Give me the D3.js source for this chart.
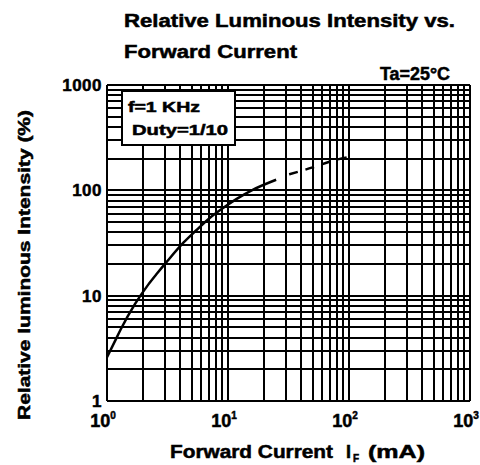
<!DOCTYPE html>
<html lang="en">
<head>
    <meta charset="UTF-8">
    <title>Relative Luminous Intensity vs. Forward Current</title>
    <script src="https://d3js.org/d3.v7.min.js"></script>
    <style>
        body {
            margin: 0;
            background: #fff;
        }
        svg text {
            font-family: "Liberation Sans", Arial, sans-serif;
            font-weight: bold;
            fill: #000;
            stroke: #000;
            stroke-width: 0.5;
        }
        .grid line {
            stroke: #000;
            stroke-width: 2;
            shape-rendering: crispEdges;
        }
        .curve {
            fill: none;
            stroke: #000;
            stroke-width: 2.5;
        }
    </style>
</head>
<body>
    <svg width="480" height="465"></svg>
    <script>
        // solid part of the curve (mA, %)
        const currentSolid = [1, 1.15, 1.3, 1.7, 2.2, 2.6, 3.1, 4.3, 5.5, 7.1, 9.1, 11.8, 16, 25];
        const intensitySolid = [2.6, 3.6, 4.8, 8.3, 12.8, 16.3, 20.8, 32, 42, 55, 68, 83, 101, 126];
        // dashed extension
        const currentDashed = [32, 50, 70, 100];
        const intensityDashed = [142, 165, 188, 208];

        const xTickPowers = [0, 1, 2, 3];
        const yTickLabels = ["1", "10", "100", "1000"];

        const svg = d3.select("svg");

        const x = d3.scaleLog().domain([1, 1000]).range([107, 470]);
        const y = d3.scaleLog().domain([1, 1000]).range([401, 85]);

        // grid
        const grid = svg.append("g").attr("class", "grid");
        grid.selectAll(".vx")
            .data(x.ticks())
            .enter()
            .append("line")
            .attr("x1", d => Math.round(x(d)))
            .attr("x2", d => Math.round(x(d)))
            .attr("y1", y(1000))
            .attr("y2", y(1));
        grid.selectAll(".hy")
            .data(y.ticks())
            .enter()
            .append("line")
            .attr("y1", d => Math.round(y(d)))
            .attr("y2", d => Math.round(y(d)))
            .attr("x1", x(1))
            .attr("x2", x(1000));

        // curve
        const line = d3.line()
            .x(d => x(d[0]))
            .y(d => y(d[1]))
            .curve(d3.curveMonotoneX);

        svg.append("path")
            .attr("class", "curve")
            .attr("d", line(d3.zip(currentSolid, intensitySolid)));

        svg.append("path")
            .attr("class", "curve")
            .attr("stroke-dasharray", "9,8")
            .attr("d", line(d3.zip(currentDashed, intensityDashed)));

        // legend box
        svg.append("rect")
            .attr("x", 122)
            .attr("y", 91)
            .attr("width", 113)
            .attr("height", 54)
            .attr("fill", "#fff")
            .attr("stroke", "#000")
            .attr("stroke-width", 2);
        svg.append("text")
            .attr("x", 128).attr("y", 112)
            .attr("font-size", 14)
            .attr("textLength", 72).attr("lengthAdjust", "spacingAndGlyphs")
            .text("f=1 KHz");
        svg.append("text")
            .attr("x", 132).attr("y", 135)
            .attr("font-size", 14)
            .attr("textLength", 96).attr("lengthAdjust", "spacingAndGlyphs")
            .text("Duty=1/10");

        // y tick labels
        svg.selectAll(".ylab")
            .data(yTickLabels)
            .enter()
            .append("text")
            .attr("x", 102)
            .attr("y", d => y(+d) + 6)
            .attr("text-anchor", "end")
            .attr("font-size", 17)
            .attr("letter-spacing", 0.5)
            .text(d => d);

        // x tick labels, 10^n
        const xl = svg.selectAll(".xlab")
            .data(xTickPowers)
            .enter()
            .append("text")
            .attr("x", d => x(Math.pow(10, d)) - 4)
            .attr("y", 427)
            .attr("text-anchor", "middle")
            .attr("font-size", 18);
        xl.append("tspan").text("10");
        xl.append("tspan")
            .attr("font-size", 10)
            .attr("dy", -8)
            .text(d => d);

        // titles
        svg.append("text")
            .attr("x", 124).attr("y", 27)
            .attr("font-size", 18)
            .attr("textLength", 331).attr("lengthAdjust", "spacingAndGlyphs")
            .text("Relative Luminous Intensity vs.");
        svg.append("text")
            .attr("x", 124).attr("y", 58)
            .attr("font-size", 18)
            .attr("textLength", 173).attr("lengthAdjust", "spacingAndGlyphs")
            .text("Forward Current");
        svg.append("text")
            .attr("x", 380).attr("y", 80)
            .attr("font-size", 18)
            .attr("textLength", 70).attr("lengthAdjust", "spacingAndGlyphs")
            .text("Ta=25°C");

        // x axis title
        svg.append("text")
            .attr("x", 170).attr("y", 458)
            .attr("font-size", 18)
            .attr("textLength", 163).attr("lengthAdjust", "spacingAndGlyphs")
            .text("Forward Current");
        svg.append("text")
            .attr("x", 346).attr("y", 458)
            .attr("font-size", 18)
            .text("I");
        svg.append("text")
            .attr("x", 353).attr("y", 462)
            .attr("font-size", 10)
            .text("F");
        svg.append("text")
            .attr("x", 368).attr("y", 458)
            .attr("font-size", 18)
            .attr("textLength", 57).attr("lengthAdjust", "spacingAndGlyphs")
            .text("(mA)");

        // y axis title
        svg.append("text")
            .attr("transform", "translate(30,265) rotate(-90)")
            .attr("text-anchor", "middle")
            .attr("font-size", 16)
            .attr("textLength", 310).attr("lengthAdjust", "spacingAndGlyphs")
            .text("Relative luminous Intensity (%)");
    </script>
</body>
</html>
